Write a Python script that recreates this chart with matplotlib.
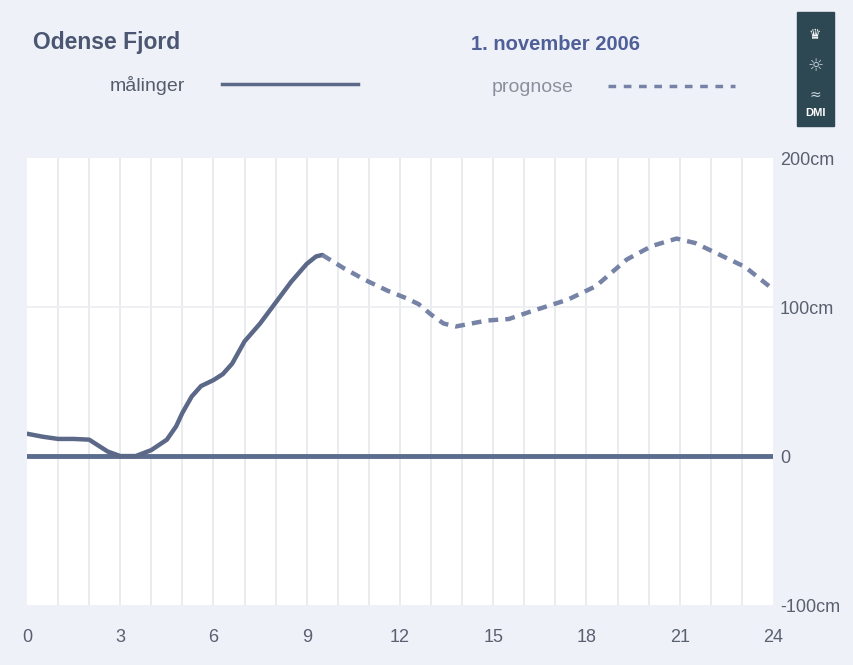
import matplotlib.pyplot as plt
from matplotlib.patches import Rectangle

plt.rcParams['font.family'] = ['Liberation Sans Narrow', 'Liberation Sans', 'DejaVu Sans']

# water level, cm, hours since midnight
maal_t = [0, 0.5, 1, 1.5, 2, 2.3, 2.6, 3, 3.5, 4, 4.5, 4.8, 5, 5.3, 5.6, 6, 6.3, 6.6,
          7, 7.5, 8, 8.5, 9, 9.3, 9.5]
maal_v = [15, 13, 11.5, 11.5, 11, 7, 3, 0, 0, 4, 11, 20, 29, 40, 47, 51, 55, 62,
          77, 89, 103, 117, 129, 134, 135]
prog_t = [9.5, 10.2, 10.9, 11.6, 12.2, 12.6, 13.0, 13.4, 13.8, 14.3, 14.8, 15.5,
          16.2, 16.8, 17.4, 18.3, 19.3, 20.1, 20.9, 21.5, 22.3, 23.1, 24]
prog_v = [135, 126, 118, 111, 106, 102, 95, 89, 87, 89, 91, 92, 97, 101, 105,
          114, 132, 141, 146, 143, 135, 127, 112]

xticks = [0, 3, 6, 9, 12, 15, 18, 21, 24]
yticks = [-100, 0, 100, 200]
ylabels = ['-100cm', '0', '100cm', '200cm']

fig = plt.figure(figsize=(8.54, 6.65), dpi=100, facecolor='#eef1f7')
ax = fig.add_axes([0.0316, 0.0902, 0.8735, 0.672])
ax.set_facecolor('white')

ax.set_xlim(0, 24)
ax.set_ylim(-100, 200)
for h in range(1, 24):
    ax.axvline(h, color='#e6e8ec', lw=1.2, zorder=1)
ax.axhline(100, color='#eceef2', lw=1.2, zorder=1)
ax.axhline(0, color='#5b6c8e', lw=3.5, zorder=2)

ax.plot(maal_t, maal_v, color='#5c6888', lw=3.2, solid_capstyle='round', zorder=3)
ax.plot(prog_t, prog_v, color='#7683a6', lw=3.2, ls=(0, (2.2, 1.6)), zorder=3)

for s in ax.spines.values():
    s.set_visible(False)
ax.set_xticks(xticks)
ax.set_xticklabels([str(x) for x in xticks])
ax.yaxis.tick_right()
ax.set_yticks(yticks)
ax.set_yticklabels(ylabels)
ax.tick_params(length=0, labelsize=13, labelcolor='#5a6070')
ax.tick_params(axis='x', pad=17)
ax.tick_params(axis='y', pad=5)

fig.text(0.039, 0.936, 'Odense Fjord', fontsize=16.5, fontweight='bold', color='#4b5672',
         va='center')
fig.text(0.551, 0.933, '1. november 2006', fontsize=14.5, fontweight='bold',
         color='#4f5f98', va='center')
fig.text(0.129, 0.871, 'målinger', fontsize=14, color='#555c6c', va='center')
fig.lines.append(plt.Line2D([0.26, 0.419], [0.873, 0.873], transform=fig.transFigure,
                            color='#5c6888', lw=2.5))
fig.text(0.576, 0.868, 'prognose', fontsize=14, color='#8a909c', va='center')
fig.lines.append(plt.Line2D([0.712, 0.861], [0.871, 0.871], transform=fig.transFigure,
                            color='#7683a6', lw=2.5, ls=(0, (2.2, 2.2))))

# DMI logo block
fig.patches.append(Rectangle((0.933, 0.81), 0.043, 0.172, transform=fig.transFigure,
                             color='#2e4853'))
fig.text(0.9545, 0.83, 'DMI', fontsize=8, color='white', ha='center', va='center',
         fontweight='bold')
fig.text(0.9545, 0.948, '♛', fontsize=10, color='white', ha='center', va='center',
         family=['DejaVu Sans'])
fig.text(0.9545, 0.9, '☼', fontsize=13, color='#c8d4da', ha='center', va='center',
         family=['DejaVu Sans'])
fig.text(0.9545, 0.858, '≈', fontsize=10, color='#c8d4da', ha='center', va='center',
         family=['DejaVu Sans'])

fig.savefig('out.png', dpi=100, facecolor=fig.get_facecolor())
